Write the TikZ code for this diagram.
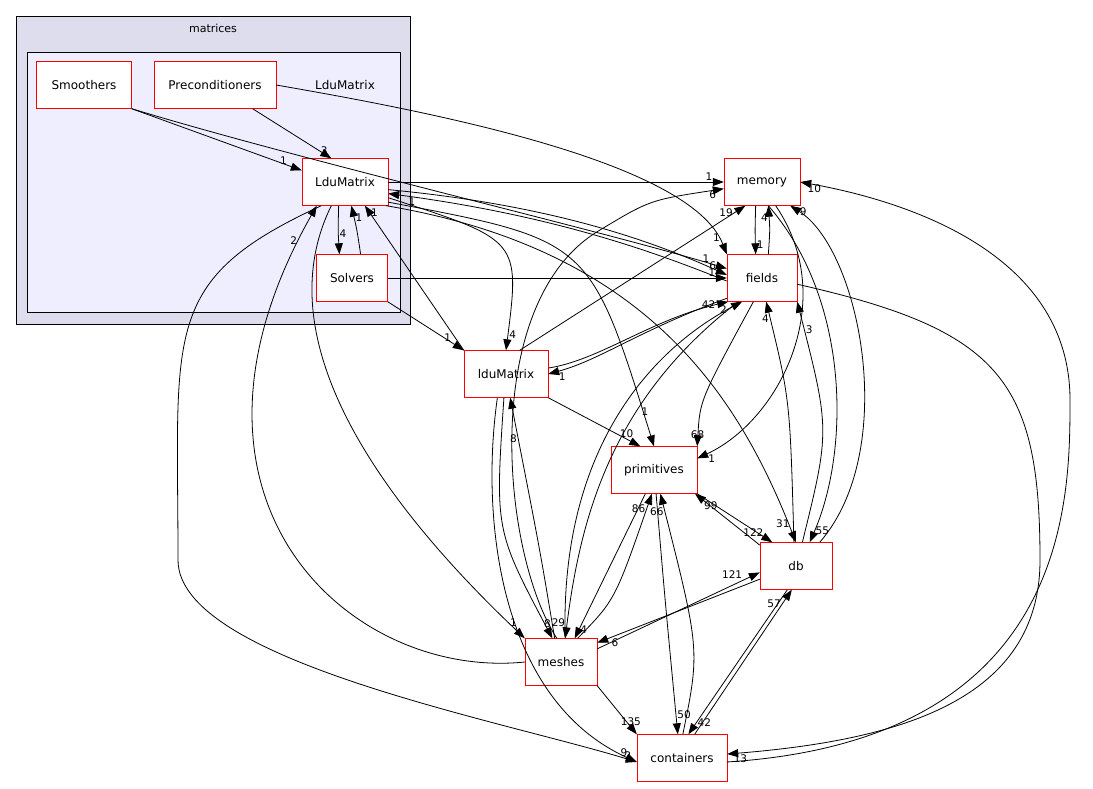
\documentclass[tikz,border=0pt]{standalone}
\usepackage{fontspec}
\setmainfont{DejaVu Sans}
\usetikzlibrary{arrows.meta, positioning}
\tikzset{
  dir/.style={draw=red, fill=white, minimum height=47pt, inner sep=2pt, font=\fontsize{12}{14}\selectfont},
  dep/.style={-{Triangle[length=11pt,width=8pt]}, line width=0.8pt},
  lbl/.style={font=\fontsize{10.5}{12}\selectfont, inner sep=1pt}
}
\begin{document}
\begin{tikzpicture}[x=1pt, y=-1pt]
\useasboundingbox (0,0) rectangle (1093,788);

% Clusters
\draw[fill={rgb,255:red,221;green,221;blue,238}, line width=0.8pt] (16,16) rectangle (410,324);
\node[font=\fontsize{11}{13}\selectfont] at (213,28) {matrices};
\draw[fill={rgb,255:red,238;green,238;blue,255}, line width=0.8pt] (27,52) rectangle (400,312);
\node[font=\fontsize{12}{14}\selectfont] (cLdu) at (345,85) {LduMatrix};

% Directories
\node[dir, minimum width=95pt] (Smo) at (84,85) {Smoothers};
\node[dir, minimum width=122pt] (Pre) at (215,85) {Preconditioners};
\node[dir, minimum width=86pt] (Ldu) at (345,182) {LduMatrix};
\node[dir, minimum width=71pt] (Sol) at (352,278) {Solvers};
\node[dir, minimum width=76pt] (mem) at (762,182) {memory};
\node[dir, minimum width=70pt] (fld) at (762,278) {fields};
\node[dir, minimum width=84pt] (ldu) at (506,374) {lduMatrix};
\node[dir, minimum width=86pt] (pri) at (654,470) {primitives};
\node[dir, minimum width=72pt] (db) at (796,566) {db};
\node[dir, minimum width=72pt] (msh) at (561,662) {meshes};
\node[dir, minimum width=90pt] (con) at (682,758) {containers};

% LduMatrix cluster
\draw[dep] (Smo.south east) -- (Ldu.165) node[lbl, pos=.92, above left] {1};
\draw[dep] (Smo.south east) .. controls (300,160) and (600,230) .. (fld.165) node[lbl, pos=.96, above left] {1};
\draw[dep] (Pre) -- (Ldu.120) node[lbl, pos=.85, right] {3};
\draw[dep] (Pre.east) .. controls (420,110) and (690,160) .. (fld.north west) node[lbl, pos=.96, above left] {1};
\draw[dep] (Ldu.255) .. controls (338,230) .. (Sol.118) node[lbl, pos=.6, right] {4};
\draw[dep] (Sol.70) .. controls (357,230) .. (Ldu.285) node[lbl, pos=.8, right] {1};
\draw[dep] (Sol.east) -- (fld.west) node[lbl, pos=.97, above left] {1};
\draw[dep] (Sol.south east) -- (ldu.north west) node[lbl, pos=.85, above left] {1};

% LduMatrix outward
\draw[dep] (Ldu.east) -- (mem.west) node[lbl, pos=.97, above left] {1};
\draw[dep] (Ldu.-10) .. controls (550,205) and (650,240) .. (fld.175) node[lbl, pos=.96, above left] {6};
\draw[dep] (fld.185) .. controls (650,250) and (550,215) .. (Ldu.-15) node[lbl, pos=.96, below right] {1};
\draw[dep] (Ldu.-20) .. controls (520,240) .. (ldu.north) node[lbl, pos=.95, right] {4};
\draw[dep] (ldu.north west) -- (Ldu.-50) node[lbl, pos=.95, right] {1};
\draw[dep] (Ldu.-25) .. controls (590,240) .. (pri.north) node[lbl, pos=.95, above] {1};
\draw[dep] (Ldu.-30) .. controls (650,250) and (740,400) .. (db.north) node[lbl, pos=.97, above left] {31};
\draw[dep] (Ldu.-120) .. controls (260,350) and (400,520) .. (msh.north west) node[lbl, pos=.97, above] {1};
\draw[dep] (Ldu.-135) .. controls (160,280) and (178,330) .. (178,560) .. controls (178,660) and (500,720) .. (con.185) node[lbl, pos=.99, above left] {2};
\draw[dep] (msh.west) .. controls (350,680) and (150,500) .. (Ldu.-140) node[lbl, pos=.96, left] {2};

% memory and fields
\draw[dep] (mem.255) .. controls (755,230) .. (fld.105) node[lbl, pos=.85, right] {1};
\draw[dep] (fld.75) .. controls (770,230) .. (mem.285) node[lbl, pos=.8, left] {4};
\draw[dep] (fld.210) .. controls (640,330) and (600,360) .. (ldu.east) node[lbl, pos=.94, below right] {1};
\draw[dep] (ldu.8) .. controls (600,360) and (650,320) .. (fld.215) node[lbl, pos=.95, left] {42};
\draw[dep] (ldu.60) -- (mem.235) node[lbl, pos=.95, left] {19};
\draw[dep] (msh.100) .. controls (500,550) and (480,300) .. (600,230) .. controls (650,200) .. (mem.190) node[lbl, pos=.97, below left] {6};
\draw[dep] (msh.80) .. controls (560,450) and (650,350) .. (fld.230) node[lbl, pos=.95, left] {2};
\draw[dep] (fld.250) .. controls (700,400) .. (pri.north east) node[lbl, pos=.95, above] {68};
\draw[dep] (mem.-60) .. controls (840,300) and (780,420) .. (pri.15) node[lbl, pos=.96, below right] {1};
\draw[dep] (ldu.south east) -- (pri.120) node[lbl, pos=.85, above] {10};
\draw[dep] (db.95) .. controls (790,400) .. (fld.280) node[lbl, pos=.94, left] {4};
\draw[dep] (db.75) .. controls (830,430) .. (fld.south east) node[lbl, pos=.92, right] {3};
\draw[dep] (mem.-75) .. controls (850,300) and (850,450) .. (db.60) node[lbl, pos=.96, right] {55};
\draw[dep] (db.45) .. controls (900,450) and (860,250) .. (mem.-40) node[lbl, pos=.96, right] {9};
\draw[dep] (fld.-10) .. controls (1000,330) and (1040,380) .. (1040,560) .. controls (1040,700) and (900,740) .. (con.5) node[lbl, pos=.99, below right] {13};
\draw[dep] (con.-5) .. controls (1070,740) and (1070,500) .. (1070,400) .. controls (1070,250) and (900,200) .. (mem.east) node[lbl, pos=.98, below right] {10};

% primitives, db, meshes, containers
\draw[dep] (pri.south east) -- (db.135) node[lbl, pos=.9, above left] {122};
\draw[dep] (db.150) -- (pri.-30) node[lbl, pos=.88, below right] {99};
\draw[dep] (pri.250) -- (msh.60) node[lbl, pos=.94, right] {4};
\draw[dep] (msh.55) .. controls (615,600) .. (pri.-95) node[lbl, pos=.95, left] {86};
\draw[dep] (pri.-85) .. controls (665,600) .. (con.100) node[lbl, pos=.95, right] {50};
\draw[dep] (con.88) .. controls (700,650) .. (pri.-75) node[lbl, pos=.96, left] {66};
\draw[dep] (db.-160) -- (msh.28) node[lbl, pos=.92, below right] {6};
\draw[dep] (msh.20) -- (db.-170) node[lbl, pos=.9, above left] {121};
\draw[dep] (db.-110) -- (con.75) node[lbl, pos=.92, right] {42};
\draw[dep] (con.62) -- (db.-100) node[lbl, pos=.9, left] {57};
\draw[dep] (msh.south east) -- (con.north west) node[lbl, pos=.85, above] {135};
\draw[dep] (ldu.-95) .. controls (495,530) .. (msh.110) node[lbl, pos=.97, above] {8};
\draw[dep] (msh.105) .. controls (540,550) .. (ldu.-80) node[lbl, pos=.9, left] {8};
\draw[dep] (fld.-135) .. controls (610,400) and (580,520) .. (msh.80) node[lbl, pos=.97, above left] {29};
\draw[dep] (ldu.-110) .. controls (480,520) and (500,700) .. (con.-175) node[lbl, pos=.98, above left] {9};
\end{tikzpicture}
\end{document}
